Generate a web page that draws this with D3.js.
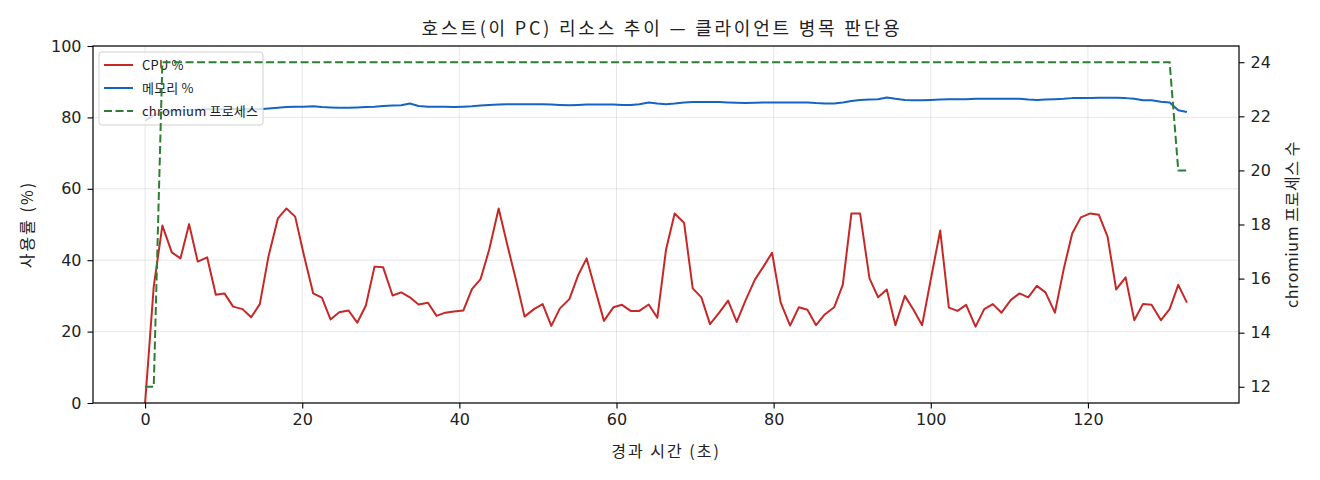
<!DOCTYPE html>
<html>
<head>
<meta charset="utf-8">
<script src="https://cdn.jsdelivr.net/npm/d3@7"></script>
<style>
  body { margin: 0; background: #fff; }
  svg text { font-family: "Noto Sans CJK KR", "DejaVu Sans", sans-serif; fill: #222; }
  .tick text { font-family: "DejaVu Sans", "Noto Sans CJK KR", sans-serif; }
</style>
</head>
<body>
<div id="chart"></div>
<script>
// elapsed time (s) of each sample
var times = [
  0.0, 1.1, 2.2, 3.4, 4.5, 5.6, 6.7, 7.9, 9.0, 10.1,
  11.2, 12.4, 13.5, 14.6, 15.7, 16.9, 18.0, 19.1, 20.2, 21.4,
  22.5, 23.6, 24.7, 25.9, 27.0, 28.1, 29.2, 30.3, 31.5, 32.6,
  33.7, 34.8, 36.0, 37.1, 38.2, 39.3, 40.5, 41.6, 42.7, 43.8,
  45.0, 46.1, 47.2, 48.3, 49.5, 50.6, 51.7, 52.8, 54.0, 55.1,
  56.2, 57.3, 58.4, 59.6, 60.7, 61.8, 62.9, 64.1, 65.2, 66.3,
  67.4, 68.6, 69.7, 70.8, 71.9, 73.1, 74.2, 75.3, 76.4, 77.6,
  78.7, 79.8, 80.9, 82.1, 83.2, 84.3, 85.4, 86.5, 87.7, 88.8,
  89.9, 91.0, 92.2, 93.3, 94.4, 95.5, 96.7, 97.8, 98.9, 100.0,
  101.2, 102.3, 103.4, 104.5, 105.7, 106.8, 107.9, 109.0, 110.2, 111.3,
  112.4, 113.5, 114.6, 115.8, 116.9, 118.0, 119.1, 120.3, 121.4, 122.5,
  123.6, 124.8, 125.9, 127.0, 128.1, 129.3, 130.4, 131.5, 132.6
];

var cpu = [
  0, 32.6, 49.7, 42.2, 40.5, 50.1, 39.6, 40.8, 30.3, 30.7,
  27.0, 26.3, 24.0, 27.7, 41.0, 51.7, 54.5, 52.2, 41.5, 30.7,
  29.5, 23.4, 25.4, 25.9, 22.5, 27.3, 38.2, 38.0, 30.1, 31.0,
  29.6, 27.6, 28.1, 24.4, 25.3, 25.6, 25.9, 31.9, 34.7, 43.0,
  54.5, 44.3, 34.5, 24.2, 26.3, 27.7, 21.6, 26.5, 29.1, 35.7,
  40.5, 31.7, 23.0, 26.8, 27.5, 25.8, 25.8, 27.6, 23.9, 42.9,
  53.1, 50.5, 32.1, 29.6, 22.1, 25.4, 28.7, 22.7, 28.6, 34.5,
  38.2, 42.1, 28.1, 21.7, 26.8, 26.1, 21.8, 24.8, 26.8, 33.1,
  53.1, 53.1, 34.9, 29.6, 31.8, 21.8, 30.0, 26.1, 21.8, 34.6,
  48.3, 26.7, 25.8, 27.5, 21.4, 26.3, 27.7, 25.3, 28.9, 30.7,
  29.6, 32.8, 31.0, 25.3, 37.3, 47.5, 52.0, 53.1, 52.7, 46.6,
  31.8, 35.2, 23.2, 27.7, 27.5, 23.2, 26.3, 33.1, 28.1
];

var memory = [
  79.1, 80.6, 81.4, 81.8, 82.0, 82.1, 82.2, 82.3, 82.3, 82.3,
  82.4, 82.3, 82.3, 82.3, 82.5, 82.7, 82.9, 83.0, 83.0, 83.1,
  82.9, 82.8, 82.7, 82.7, 82.8, 82.9, 83.0, 83.2, 83.3, 83.4,
  83.9, 83.2, 83.0, 83.0, 83.0, 82.9, 83.0, 83.1, 83.3, 83.5,
  83.6, 83.7, 83.7, 83.7, 83.7, 83.7, 83.6, 83.5, 83.4, 83.5,
  83.6, 83.6, 83.6, 83.6, 83.5, 83.5, 83.7, 84.2, 83.9, 83.7,
  83.9, 84.2, 84.3, 84.3, 84.3, 84.3, 84.2, 84.1, 84.0, 84.1,
  84.2, 84.2, 84.2, 84.2, 84.2, 84.2, 84.0, 83.9, 83.9, 84.2,
  84.6, 84.9, 85.0, 85.1, 85.6, 85.2, 84.9, 84.8, 84.8, 84.9,
  85.0, 85.1, 85.1, 85.1, 85.2, 85.2, 85.2, 85.2, 85.2, 85.2,
  85.0, 84.9, 85.0, 85.1, 85.2, 85.4, 85.4, 85.4, 85.5, 85.5,
  85.5, 85.4, 85.2, 84.8, 84.8, 84.4, 84.2, 82.0, 81.5
];

var chromium = [
  12, 12, 24, 24, 24, 24, 24, 24, 24, 24,
  24, 24, 24, 24, 24, 24, 24, 24, 24, 24,
  24, 24, 24, 24, 24, 24, 24, 24, 24, 24,
  24, 24, 24, 24, 24, 24, 24, 24, 24, 24,
  24, 24, 24, 24, 24, 24, 24, 24, 24, 24,
  24, 24, 24, 24, 24, 24, 24, 24, 24, 24,
  24, 24, 24, 24, 24, 24, 24, 24, 24, 24,
  24, 24, 24, 24, 24, 24, 24, 24, 24, 24,
  24, 24, 24, 24, 24, 24, 24, 24, 24, 24,
  24, 24, 24, 24, 24, 24, 24, 24, 24, 24,
  24, 24, 24, 24, 24, 24, 24, 24, 24, 24,
  24, 24, 24, 24, 24, 24, 24, 20, 20
];

var xTicks = [0, 20, 40, 60, 80, 100, 120];
var yTicks = [0, 20, 40, 60, 80, 100];
var y2Ticks = [12, 14, 16, 18, 20, 22, 24];

var titleText = "호스트(이 PC) 리소스 추이 — 클라이언트 병목 판단용";
var xLabel = "경과 시간 (초)";
var yLabel = "사용률 (%)";
var y2Label = "chromium 프로세스 수";
var seriesNames = ["CPU %", "메모리 %", "chromium 프로세스"];
var colors = ["#c62828", "#1565c0", "#2e7d32"];

document.addEventListener('DOMContentLoaded', function () {
    drawChart();
});

function drawChart() {
    var W = 1320, H = 480;
    var margin = {top: 46, right: 81, bottom: 77, left: 93},
        width = W - margin.left - margin.right,
        height = H - margin.top - margin.bottom;

    var svg = d3.select("#chart").append("svg")
        .attr("width", W)
        .attr("height", H);

    var g = svg.append("g")
        .attr("transform", "translate(" + margin.left + "," + margin.top + ")");

    // scales (matplotlib style 5% padding on x and on the twin axis)
    var tMax = d3.max(times), tPad = tMax * 0.05;
    var x = d3.scaleLinear().domain([-tPad, tMax + tPad]).range([0, width]);
    var y = d3.scaleLinear().domain([0, 100]).range([height, 0]);
    var cMin = d3.min(chromium), cMax = d3.max(chromium), cPad = (cMax - cMin) * 0.05;
    var y2 = d3.scaleLinear().domain([cMin - cPad, cMax + cPad]).range([height, 0]);

    // grid
    g.append("g").selectAll("line").data(xTicks).enter().append("line")
        .attr("x1", function(d) { return x(d); })
        .attr("x2", function(d) { return x(d); })
        .attr("y1", 0).attr("y2", height)
        .attr("stroke", "#b0b0b0").attr("stroke-opacity", 0.3).attr("stroke-width", 1);
    g.append("g").selectAll("line").data(yTicks).enter().append("line")
        .attr("x1", 0).attr("x2", width)
        .attr("y1", function(d) { return y(d); })
        .attr("y2", function(d) { return y(d); })
        .attr("stroke", "#b0b0b0").attr("stroke-opacity", 0.3).attr("stroke-width", 1);

    var idx = d3.range(times.length);

    var cpuLine = d3.line()
        .x(function(i) { return x(times[i]); })
        .y(function(i) { return y(cpu[i]); });
    var memLine = d3.line()
        .x(function(i) { return x(times[i]); })
        .y(function(i) { return y(memory[i]); });
    var chrLine = d3.line()
        .x(function(i) { return x(times[i]); })
        .y(function(i) { return y2(chromium[i]); });

    g.append("path").datum(idx)
        .attr("d", cpuLine)
        .attr("fill", "none").attr("stroke", colors[0])
        .attr("stroke-width", 2).attr("stroke-linejoin", "round");
    g.append("path").datum(idx)
        .attr("d", memLine)
        .attr("fill", "none").attr("stroke", colors[1])
        .attr("stroke-width", 2).attr("stroke-linejoin", "round");

    // legend (belongs to left axes, so the twin line is drawn over it)
    var legend = g.append("g").attr("transform", "translate(6,6)");
    legend.append("rect")
        .attr("width", 164).attr("height", 73)
        .attr("rx", 3).attr("ry", 3)
        .attr("fill", "#fff").attr("fill-opacity", 0.8)
        .attr("stroke", "#d0d0d0").attr("stroke-width", 1);
    seriesNames.forEach(function(name, i) {
        var ly = 13 + i * 23;
        legend.append("line")
            .attr("x1", 5).attr("x2", 34)
            .attr("y1", ly).attr("y2", ly)
            .attr("stroke", colors[i]).attr("stroke-width", 2)
            .attr("stroke-dasharray", i == 2 ? "8,3.5" : null);
        legend.append("text")
            .attr("x", 43).attr("y", ly)
            .attr("dy", "0.35em")
            .style("font-size", "13px")
            .style("letter-spacing", "0.2px")
            .text(name);
    });

    g.append("path").datum(idx)
        .attr("d", chrLine)
        .attr("fill", "none").attr("stroke", colors[2])
        .attr("stroke-width", 2).attr("stroke-dasharray", "8,3.5");

    // axes
    var xAxis = g.append("g")
        .attr("transform", "translate(0," + height + ")")
        .call(d3.axisBottom(x).tickValues(xTicks).tickSize(5.5).tickPadding(5).tickFormat(d3.format("d")));
    var yAxis = g.append("g")
        .call(d3.axisLeft(y).tickValues(yTicks).tickSize(5.5).tickPadding(6).tickFormat(d3.format("d")));
    var y2Axis = g.append("g")
        .attr("transform", "translate(" + width + ",0)")
        .call(d3.axisRight(y2).tickValues(y2Ticks).tickSize(5.5).tickPadding(6).tickFormat(d3.format("d")));

    [xAxis, yAxis, y2Axis].forEach(function(a) {
        a.select(".domain").remove();
        a.selectAll(".tick line").attr("stroke", "#000").attr("stroke-width", 1.1);
        a.selectAll(".tick text").style("font-size", "16px").attr("fill", "#222");
    });

    // frame
    g.append("rect")
        .attr("width", width).attr("height", height)
        .attr("fill", "none").attr("stroke", "#000").attr("stroke-width", 1.2);

    // titles
    svg.append("text")
        .attr("x", margin.left + width / 2 - 4).attr("y", 35)
        .attr("text-anchor", "middle")
        .style("font-size", "18px")
        .style("letter-spacing", "2.8px")
        .text(titleText);

    svg.append("text")
        .attr("x", margin.left + width / 2).attr("y", 457)
        .attr("text-anchor", "middle")
        .style("font-size", "16px")
        .style("letter-spacing", "2px")
        .text(xLabel);

    svg.append("text")
        .attr("transform", "translate(33," + (margin.top + height / 2) + ") rotate(-90)")
        .attr("text-anchor", "middle")
        .style("font-size", "16px")
        .style("letter-spacing", "2px")
        .text(yLabel);

    svg.append("text")
        .attr("transform", "translate(1298," + (margin.top + height / 2) + ") rotate(-90)")
        .attr("text-anchor", "middle")
        .style("font-size", "16px")
        .style("letter-spacing", "0.6px")
        .text(y2Label);
}
</script>
</body>
</html>
